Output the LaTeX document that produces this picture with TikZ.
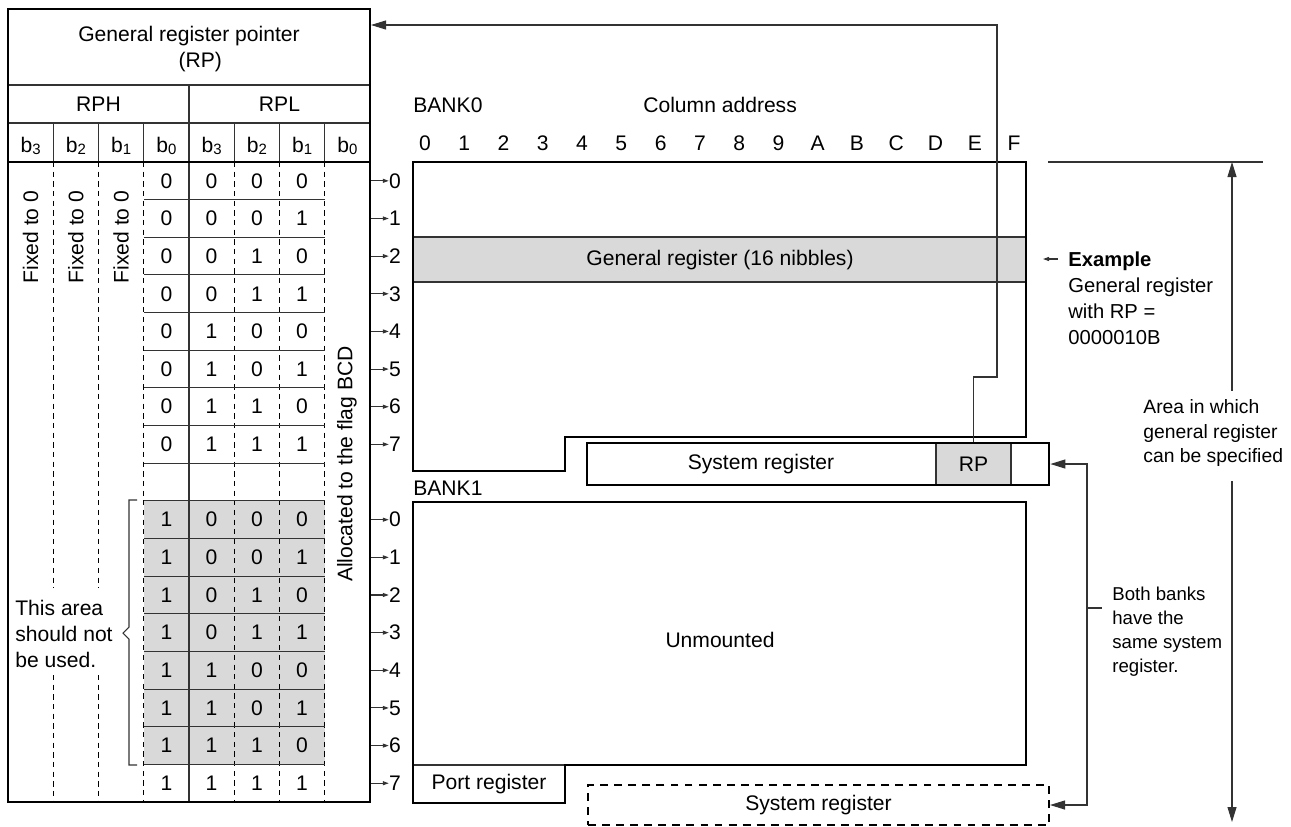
\documentclass[tikz,border=0pt]{standalone}
\usepackage{fontspec}
\setmainfont{Liberation Sans}
\usetikzlibrary{arrows.meta,positioning,calc}

\begin{document}
\begin{tikzpicture}[
        x=0.02cm, y=-0.02cm,
        txt/.style={font=\fontsize{12pt}{15pt}\selectfont, inner sep=0pt},
        note/.style={font=\fontsize{11pt}{14pt}\selectfont, inner sep=0pt, align=left},
        frame/.style={line width=1.6pt},
        hair/.style={line width=0.6pt, black!80},
        sep/.style={line width=0.5pt, dash pattern=on 3pt off 2.5pt},
        shade/.style={fill=black!15},
        bigarrow/.style={-{Triangle[length=0.3cm,width=0.18cm]}},
        tinyarrow/.style={-{Triangle[length=0.12cm,width=0.08cm]}}
    ]
    \useasboundingbox (0,0) rectangle (1291,826);

    % --- RP table ---
    \fill[shade] (143.75,500) rectangle (324.75,765);
    \draw[hair] (8,85) -- (370,85);
    \draw[hair] (8,123) -- (370,123);
    \draw[hair] (189,85) -- (189,802);
    \foreach \i in {1,2,3,5,6,7}
        \draw[hair] ({8+45.25*\i},123) -- ({8+45.25*\i},162);
    \foreach \i in {1,2}{
        \draw[sep] ({8+45.25*\i},162) -- ({8+45.25*\i},588);
        \draw[sep] ({8+45.25*\i},675) -- ({8+45.25*\i},802);
    }
    \foreach \i in {3,5,6,7}
        \draw[sep] ({8+45.25*\i},162) -- ({8+45.25*\i},802);
    \foreach \k in {1,...,16}
        \draw[hair] (143.75,{162+37.65*\k}) -- (324.75,{162+37.65*\k});
    \draw[frame] (8,162) -- (370,162);
    \draw[frame] (8,9) rectangle (370,802);

    \node[txt, align=center] (rp) at (189,49) {General register pointer\\\hspace*{0.45cm}(RP)};
    \node[txt] (rph) at (98.5,104) {RPH};
    \node[txt] (rpl) at (279.5,104) {RPL};
    \foreach \b [count=\i from 0] in {3,2,1,0,3,2,1,0}
        \node[txt] (bit\i) at ({8+45.25*(\i+0.5)},146) {b\raisebox{-0.2ex}{\fontsize{8.5pt}{8.5pt}\selectfont\b}};
    \foreach \i in {0,1,2}
        \node[txt, rotate=90] (fix\i) at ({8+45.25*(\i+0.5)},237) {Fixed to 0};
    \node[txt, rotate=90] (bcd) at (347,464) {Allocated to the flag BCD};
    \node[txt, align=left, anchor=west] (unused) at (15,634) {This area\\should not\\be used.};
    \draw[hair] (137,500) -- (129,500) -- (129,627) -- (123,633) -- (129,639) -- (129,765) -- (137,765);

    % rows of both banks
    \foreach \k in {0,...,7}{
        \pgfmathsetmacro{\ya}{162+37.65*(\k+0.5)}
        \pgfmathsetmacro{\yb}{162+37.65*(\k+9.5)}
        \pgfmathtruncatemacro{\bA}{\k/4}
        \pgfmathtruncatemacro{\bB}{mod(\k,4)/2}
        \pgfmathtruncatemacro{\bC}{mod(\k,2)}
        \node[txt] (za\k) at (166.4,\ya) {0};
        \node[txt] (aa\k) at (211.6,\ya) {\bA};
        \node[txt] (ba\k) at (256.9,\ya) {\bB};
        \node[txt] (ca\k) at (302.1,\ya) {\bC};
        \node[txt] (zb\k) at (166.4,\yb) {1};
        \node[txt] (ab\k) at (211.6,\yb) {\bA};
        \node[txt] (bb\k) at (256.9,\yb) {\bB};
        \node[txt] (cb\k) at (302.1,\yb) {\bC};
        \node[txt] (idxa\k) at (395,\ya) {\k};
        \node[txt] (idxb\k) at (395,\yb) {\k};
        \draw[hair, tinyarrow] (371,\ya) -- (idxa\k.west);
        \draw[hair, tinyarrow] (371,\yb) -- (idxb\k.west);
    }

    % --- BANK0 ---
    \node[txt, anchor=west] (bank0) at (413,105) {BANK0};
    \node[txt, anchor=west] (coladdr) at (643,105) {Column address};
    \foreach \c [count=\i from 0] in {0,1,2,3,4,5,6,7,8,9,A,B,C,D,E,F}
        \node[txt] (col\c) at (425+39.27*\i,143) {\c};
    \fill[shade] (413,237) rectangle (1026,282);
    \draw[hair] (413,237) -- (1026,237);
    \draw[hair] (413,282) -- (1026,282);
    \node[txt] (genreg) at (720,260) {General register (16 nibbles)};
    \draw[frame] (413,162) -- (1026,162) -- (1026,437) -- (565,437) -- (565,471) -- (413,471) -- cycle;

    \node[draw, hair, shade, minimum width=1.5cm, minimum height=0.84cm, inner sep=0pt] (rpcell) at (973.5,464) {};
    \node[draw, frame, minimum width=9.24cm, minimum height=0.84cm, inner sep=0pt] (sys0) at (818,464) {};
    \node[txt] (sys0txt) at (761,464) {System register};
    \node[txt] (rptxt) at (rpcell) {RP};

    % --- BANK1 ---
    \node[txt, anchor=west] (bank1) at (413,488) {BANK1};
    \draw[hair] (413,765) -- (565,765);
    \draw[frame] (413,502) -- (1026,502) -- (1026,765) -- (565,765) -- (565,803) -- (413,803) -- cycle;
    \node[txt] (unmounted) at (720,640) {Unmounted};
    \node[txt] (port) at (489,784) {Port register};
    \node[draw, line width=1.2pt, dash pattern=on 4.5pt off 3.5pt, minimum width=9.22cm, minimum height=0.8cm, inner sep=0pt] (sys1) at (818.5,805) {};
    \node[txt] (sys1txt) at (sys1) {System register};

    % --- connectors and notes ---
    \coordinate (rpin) at (371,25);
    \draw[hair, bigarrow] (rpcell.north) -- (973.5,377) -- (997,377) -- (997,25) -- (rpin);

    \node[note, font=\fontsize{11.5pt}{14.8pt}\selectfont, anchor=west] (example) at (1068,298) {\textbf{Example}\\General register\\with RP =\\0000010B};
    \draw[hair, tinyarrow] (1058,259) -- (1043,259);

    \coordinate (areatop) at (1232,162);
    \coordinate (areabot) at (1232,822);
    \draw[hair] (1048,162) -- (1263,162);
    \node[note, font=\fontsize{11pt}{14.2pt}\selectfont, anchor=west] (area) at (1143,433) {Area in which\\general register\\can be specified};
    \draw[hair, bigarrow] (area.north -| areatop) ++(0,-8) -- (areatop);
    \draw[hair, bigarrow] (area.south -| areabot) ++(0,14) -- (areabot);

    \coordinate (bus) at (1087,608);
    \draw[hair, bigarrow] (bus) |- (sys0.east);
    \draw[hair, bigarrow] (bus) |- (sys1.east);
    \draw[hair] (bus) -- ++(15,0);
    \node[note, font=\fontsize{10.6pt}{13.6pt}\selectfont, anchor=west] (both) at (1112,632) {Both banks\\have the\\same system\\register.};
\end{tikzpicture}
\end{document}
